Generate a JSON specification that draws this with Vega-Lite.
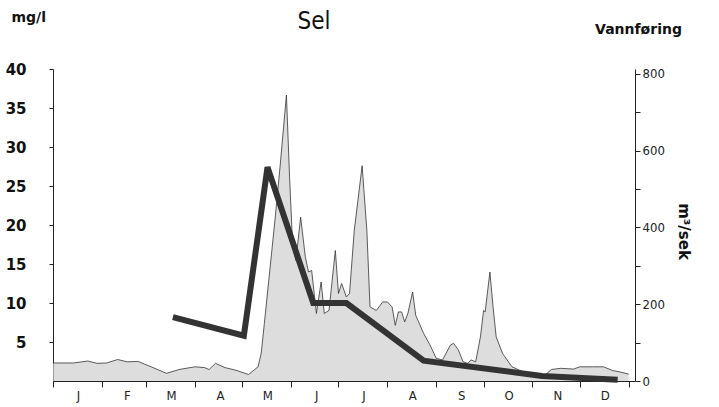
{
  "$schema": "https://vega.github.io/schema/vega-lite/v6.json",
  "width": 582,
  "height": 312,
  "autosize": {"type": "none"},
  "padding": {"left": 53, "top": 69, "right": 84, "bottom": 26},
  "background": "white",
  "title": {
    "text": "Sel",
    "font": "Liberation Sans Narrow, DejaVu Sans Condensed, sans-serif",
    "fontSize": 24,
    "fontWeight": "normal",
    "color": "#111",
    "anchor": "middle",
    "frame": "group",
    "dx": -30,
    "offset": -24
  },
  "config": {
    "view": {"stroke": null},
    "axis": {"grid": false, "domainColor": "#222", "tickColor": "#222", "labelColor": "#222", "titleColor": "#111"}
  },
  "datasets": {
    "flow": [
      {"day": 0, "q": 47}, {"day": 13, "q": 47}, {"day": 22, "q": 52}, {"day": 28, "q": 46},
      {"day": 34, "q": 47}, {"day": 41, "q": 56}, {"day": 47, "q": 50}, {"day": 54, "q": 51},
      {"day": 61, "q": 39}, {"day": 72, "q": 20}, {"day": 80, "q": 30}, {"day": 90, "q": 37},
      {"day": 96, "q": 35}, {"day": 99, "q": 30}, {"day": 103, "q": 46}, {"day": 109, "q": 35},
      {"day": 116, "q": 28}, {"day": 124, "q": 17}, {"day": 130, "q": 37}, {"day": 132, "q": 72},
      {"day": 134, "q": 150}, {"day": 137, "q": 270}, {"day": 141, "q": 430}, {"day": 144, "q": 560},
      {"day": 148, "q": 745}, {"day": 150, "q": 530}, {"day": 152, "q": 349}, {"day": 154, "q": 314},
      {"day": 157, "q": 427}, {"day": 160, "q": 323}, {"day": 162, "q": 284}, {"day": 164, "q": 288},
      {"day": 167, "q": 176}, {"day": 170, "q": 258}, {"day": 172, "q": 176}, {"day": 175, "q": 184},
      {"day": 179, "q": 340}, {"day": 181, "q": 228}, {"day": 183, "q": 254}, {"day": 186, "q": 219},
      {"day": 188, "q": 228}, {"day": 191, "q": 392}, {"day": 196, "q": 561}, {"day": 199, "q": 392},
      {"day": 201, "q": 193}, {"day": 205, "q": 184}, {"day": 209, "q": 206}, {"day": 212, "q": 206},
      {"day": 215, "q": 193}, {"day": 217, "q": 145}, {"day": 219, "q": 180}, {"day": 221, "q": 180},
      {"day": 223, "q": 154}, {"day": 225, "q": 176}, {"day": 228, "q": 232}, {"day": 230, "q": 171},
      {"day": 235, "q": 124}, {"day": 239, "q": 94}, {"day": 243, "q": 59}, {"day": 247, "q": 55},
      {"day": 252, "q": 94}, {"day": 254, "q": 98}, {"day": 257, "q": 81}, {"day": 260, "q": 50},
      {"day": 263, "q": 46}, {"day": 265, "q": 55}, {"day": 268, "q": 50}, {"day": 271, "q": 115},
      {"day": 273, "q": 184}, {"day": 274, "q": 180}, {"day": 277, "q": 284}, {"day": 279, "q": 193},
      {"day": 281, "q": 115}, {"day": 285, "q": 72}, {"day": 291, "q": 37}, {"day": 298, "q": 24},
      {"day": 306, "q": 16}, {"day": 312, "q": 16}, {"day": 316, "q": 30}, {"day": 322, "q": 33},
      {"day": 330, "q": 31}, {"day": 334, "q": 37}, {"day": 342, "q": 37}, {"day": 349, "q": 37},
      {"day": 355, "q": 27}, {"day": 359, "q": 24}, {"day": 365, "q": 18}
    ],
    "conc": [
      {"day": 76, "mg": 8.2}, {"day": 121, "mg": 5.8}, {"day": 136, "mg": 27.4},
      {"day": 165, "mg": 10.0}, {"day": 186, "mg": 10.0}, {"day": 235, "mg": 2.6},
      {"day": 310, "mg": 0.65}, {"day": 358, "mg": 0.15}
    ]
  },
  "layer": [
    {
      "data": {"name": "flow"},
      "mark": {"type": "area", "color": "#cfcfcf", "line": {"color": "#333", "strokeWidth": 0.8}},
      "encoding": {
        "x": {
          "field": "day",
          "type": "quantitative",
          "scale": {"domain": [0, 369], "nice": false, "zero": false},
          "axis": {
            "orient": "bottom",
            "title": null,
            "values": [0, 31, 59, 90, 120, 151, 181, 212, 243, 273, 304, 334, 365],
            "labelExpr": "datum.value >= 365 ? '' : ['J','F','M','A','M','J','J','A','S','O','N','D'][indexof([0,31,59,90,120,151,181,212,243,273,304,334], datum.value)]",
            "labelAlign": "center",
            "labelOffset": 25,
            "labelPadding": 2,
            "tickSize": 6,
            "labelFont": "DejaVu Sans Condensed",
            "labelFontSize": 13
          }
        },
        "y": {
          "field": "q",
          "type": "quantitative",
          "scale": {"domain": [0, 813], "nice": false},
          "axis": {
            "orient": "right",
            "values": [0, 100, 200, 300, 400, 500, 600, 700, 800],
            "labelExpr": "datum.value % 200 == 0 ? datum.label : ''",
            "tickSize": 5,
            "labelPadding": 2,
            "labelFont": "DejaVu Sans Condensed",
            "labelFontSize": 13,
            "title": "m³/sek",
            "titleAngle": 90,
            "titleAlign": "center",
            "titleBaseline": "middle",
            "titleX": 48,
            "titleY": 162,
            "titleFont": "DejaVu Sans",
            "titleFontSize": 15,
            "titleFontWeight": "bold"
          }
        }
      }
    },
    {
      "data": {"name": "conc"},
      "mark": {"type": "line", "color": "#333", "strokeWidth": 6, "strokeCap": "butt"},
      "encoding": {
        "x": {
          "field": "day",
          "type": "quantitative",
          "axis": {
            "orient": "top",
            "labels": false,
            "ticks": false,
            "domain": false,
            "title": "Vannføring",
            "titleAngle": 0,
            "titleAlign": "center",
            "titleBaseline": "middle",
            "titleX": 585,
            "titleY": -40,
            "titleFont": "DejaVu Sans",
            "titleFontSize": 14,
            "titleFontWeight": "bold"
          }
        },
        "y": {
          "field": "mg",
          "type": "quantitative",
          "scale": {"domain": [0, 40], "nice": false},
          "axis": {
            "orient": "left",
            "values": [5, 10, 15, 20, 25, 30, 35, 40],
            "tickSize": 4,
            "labelPadding": 23,
            "labelFont": "DejaVu Sans",
            "labelFontSize": 15,
            "labelFontWeight": "bold",
            "labelColor": "#111",
            "title": "mg/l",
            "titleAngle": 0,
            "titleAlign": "left",
            "titleBaseline": "middle",
            "titleX": -42,
            "titleY": -52,
            "titleFont": "DejaVu Sans",
            "titleFontSize": 14,
            "titleFontWeight": "bold"
          }
        }
      }
    }
  ],
  "resolve": {"scale": {"y": "independent"}, "axis": {"x": "independent", "y": "independent"}}
}
